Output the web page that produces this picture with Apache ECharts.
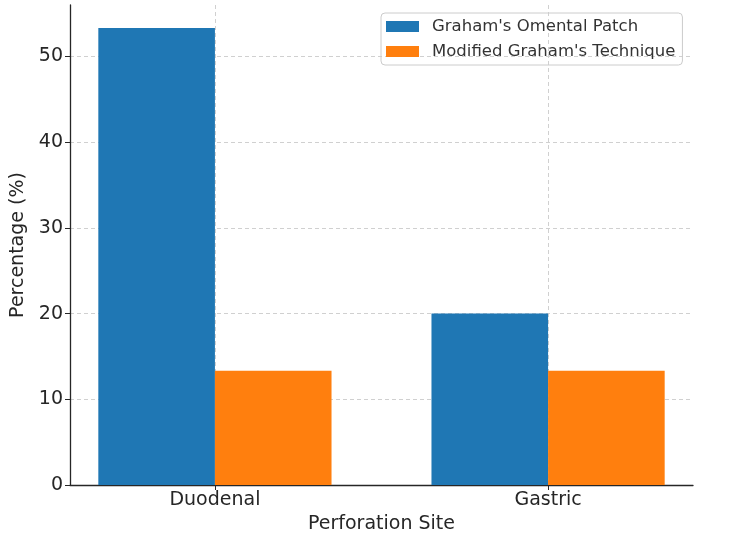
<!DOCTYPE html>
<html>
<head>
<meta charset="utf-8">
<script src="https://cdn.jsdelivr.net/npm/echarts@6/dist/echarts.min.js"></script>
<style>
  html, body { margin: 0; padding: 0; background: #fff; }
  #chart { width: 750px; height: 549px; }
</style>
</head>
<body>
<div id="chart"></div>
<script>
const categories = ['Duodenal', 'Gastric']
const seriesNames = ["Graham's Omental Patch", "Modified Graham's Technique"]
const omentalPatch = [53.33, 20.0]
const modifiedTechnique = [13.33, 13.33]
const yTicks = [0, 10, 20, 30, 40, 50]
const catPositions = [0, 1]

const font = 'DejaVu Sans'
const chart = echarts.init(document.getElementById('chart'))

const toPoints = vals => vals.map((v, i) => [catPositions[i], v])

chart.setOption({
  backgroundColor: '#fff',
  animation: false,
  textStyle: { fontFamily: font },
  grid: { left: 70, right: 57, top: 5, bottom: 64 },
  legend: {
    orient: 'vertical',
    left: 381,
    top: 13,
    padding: [5, 7, 5, 5],
    itemGap: 8,
    itemWidth: 33,
    itemHeight: 11,
    icon: 'rect',
    borderColor: '#cccccc',
    borderWidth: 1,
    borderRadius: 4,
    textStyle: { fontFamily: font, fontSize: 16.5, color: '#333', padding: [0, 0, 0, 8] },
    data: seriesNames
  },
  xAxis: {
    type: 'value',
    min: -0.435,
    max: 1.435,
    name: 'Perforation Site',
    nameLocation: 'middle',
    nameGap: 27,
    nameTextStyle: { fontFamily: font, fontSize: 19, color: '#262626' },
    axisLine: { onZero: false, lineStyle: { color: '#262626', width: 1.3 } },
    axisTick: { show: true, customValues: catPositions, length: 5, lineStyle: { color: '#262626' } },
    axisLabel: {
      customValues: catPositions,
      fontFamily: font, fontSize: 19, color: '#262626', margin: 6,
      formatter: v => categories[Math.round(v)]
    },
    splitLine: { show: true, lineStyle: { color: '#d0d0d0', type: [4, 3] } }
  },
  yAxis: {
    type: 'value',
    min: 0,
    max: 56,
    name: 'Percentage (%)',
    nameLocation: 'middle',
    nameGap: 39,
    nameTextStyle: { fontFamily: font, fontSize: 19, color: '#262626' },
    axisLine: { show: true, onZero: false, lineStyle: { color: '#262626', width: 1.3 } },
    axisTick: { show: true, customValues: yTicks, length: 5, lineStyle: { color: '#262626' } },
    axisLabel: { customValues: yTicks, fontFamily: font, fontSize: 19, color: '#262626', margin: 7 },
    splitLine: { show: true, lineStyle: { color: '#d0d0d0', type: [4, 3] } }
  },
  series: [
    {
      name: seriesNames[0],
      type: 'bar',
      data: toPoints(omentalPatch),
      barWidth: '35%',
      barGap: '0%',
      itemStyle: { color: '#1f77b4' }
    },
    {
      name: seriesNames[1],
      type: 'bar',
      data: toPoints(modifiedTechnique),
      barWidth: '35%',
      barGap: '0%',
      itemStyle: { color: '#ff7f0e' }
    }
  ]
})
</script>
</body>
</html>
